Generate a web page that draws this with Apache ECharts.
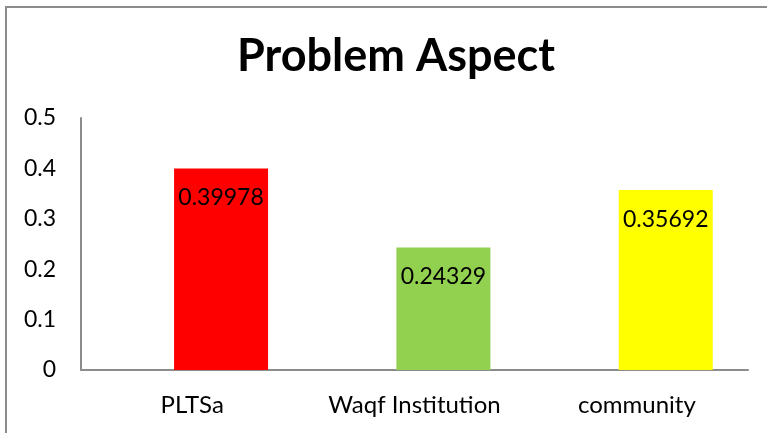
<!DOCTYPE html>
<html>
<head>
<meta charset="utf-8">
<script src="https://cdn.jsdelivr.net/npm/echarts@6/dist/echarts.min.js"></script>
<style>
  html, body { margin: 0; padding: 0; background: #fff; }
  #main { position: absolute; left: 0; top: 0; width: 767px; height: 433px; }
  #frame {
    position: absolute; left: 5px; top: 6px; right: 0; bottom: 0;
    border-left: 2px solid #8c8c8c; border-top: 2px solid #8c8c8c;
    pointer-events: none;
  }
</style>
</head>
<body>
<div id="main"></div>
<div id="frame"></div>
<script>
const categories = ["PLTSa", "Waqf Institution", "community"];
const values = [0.39978, 0.24329, 0.35692];
const barColors = ["#FF0000", "#92D050", "#FFFF00"];
const yTicks = [0, 0.1, 0.2, 0.3, 0.4, 0.5];

const chart = echarts.init(document.getElementById("main"));
const font = "Lato, 'Open Sans', sans-serif";
const labelShift = 0.13; // category labels sit a bit left of the bars in the original

const option = {
  animation: false,
  title: {
    text: "Problem Aspect",
    left: 391,
    top: 29,
    textAlign: "center",
    textStyle: { fontFamily: font, fontSize: 45, fontWeight: "bold", color: "#000" },
  },
  grid: { left: 81, right: 19, top: 118, bottom: 63 },
  xAxis: {
    type: "value",
    min: -0.63, // Excel leaves extra room before the first bar
    max: 2.37,
    splitLine: { show: false },
    axisLine: { show: true, onZero: false, lineStyle: { color: "#8c8c8c", width: 2 } },
    axisTick: { show: false },
    axisLabel: {
      customValues: categories.map((c, i) => i - labelShift),
      formatter: (v) => categories[Math.round(v + labelShift)] || "",
      fontFamily: font,
      fontSize: 24,
      color: "#000",
      margin: 23,
    },
  },
  yAxis: {
    type: "value",
    min: 0,
    max: 0.5,
    interval: 0.1,
    splitLine: { show: false },
    axisLine: { show: true, onZero: false, lineStyle: { color: "#8c8c8c", width: 2 } },
    axisTick: { show: false },
    axisLabel: {
      formatter: (v) => String(yTicks[Math.round(v * 10)]),
      fontFamily: font,
      fontSize: 23,
      color: "#000",
      margin: 25,
    },
  },
  series: [
    {
      type: "bar",
      barWidth: 94,
      data: values.map((v, i) => ({
        value: [i, v],
        itemStyle: { color: barColors[i] },
      })),
      label: {
        show: true,
        position: "insideTop",
        distance: 18,
        formatter: (p) => String(p.value[1]),
        fontFamily: font,
        fontSize: 23,
        color: "#000",
      },
    },
  ],
};

chart.setOption(option);
</script>
</body>
</html>
